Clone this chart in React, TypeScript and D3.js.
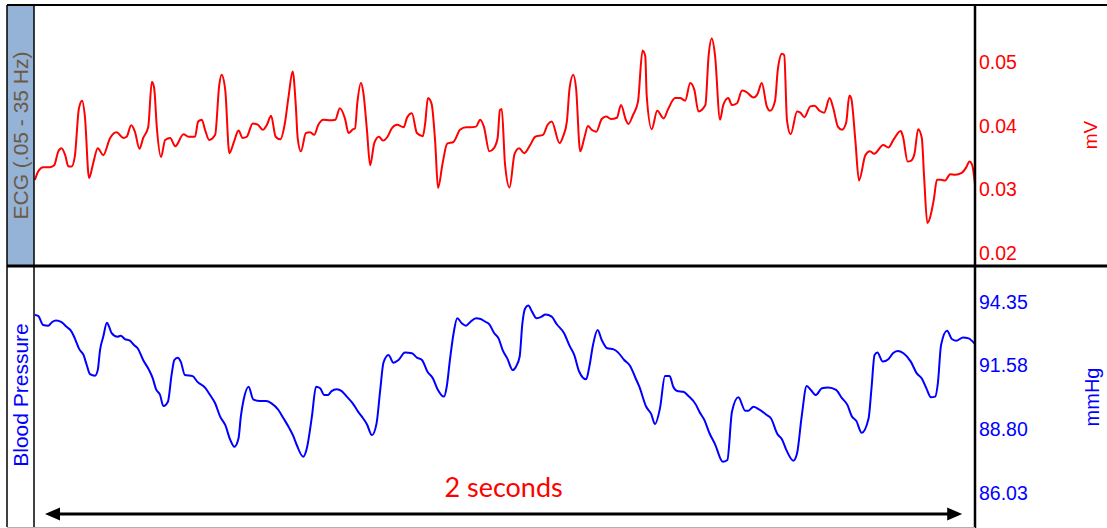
import React from "react";
import * as d3 from "d3";

// ECG trace: [time (s), amplitude (mV)]
const ecgSamples: [number, number][] = [
  [0.002, 0.0315], [0.009, 0.0328], [0.020, 0.0335], [0.035, 0.0335], [0.044, 0.0338],
  [0.053, 0.0360], [0.060, 0.0365], [0.068, 0.0354], [0.075, 0.0336], [0.082, 0.0336],
  [0.089, 0.0352], [0.098, 0.0428], [0.105, 0.0440], [0.111, 0.0415], [0.120, 0.0318],
  [0.129, 0.0341], [0.139, 0.0365], [0.151, 0.0354], [0.166, 0.0381], [0.180, 0.0390],
  [0.195, 0.0381], [0.202, 0.0383], [0.212, 0.0401], [0.220, 0.0391], [0.230, 0.0364],
  [0.238, 0.0381], [0.249, 0.0398], [0.257, 0.0470], [0.262, 0.0460], [0.268, 0.0396],
  [0.277, 0.0351], [0.286, 0.0378], [0.297, 0.0381], [0.308, 0.0368], [0.326, 0.0387],
  [0.337, 0.0383], [0.351, 0.0383], [0.358, 0.0407], [0.366, 0.0410], [0.373, 0.0394],
  [0.382, 0.0378], [0.395, 0.0386], [0.404, 0.0465], [0.409, 0.0481], [0.417, 0.0457],
  [0.426, 0.0357], [0.436, 0.0375], [0.446, 0.0393], [0.455, 0.0381], [0.464, 0.0383],
  [0.477, 0.0404], [0.488, 0.0402], [0.499, 0.0394], [0.508, 0.0402], [0.517, 0.0416],
  [0.527, 0.0383], [0.537, 0.0379], [0.547, 0.0404], [0.555, 0.0446], [0.564, 0.0486],
  [0.571, 0.0431], [0.575, 0.0381], [0.582, 0.0360], [0.593, 0.0389], [0.602, 0.0390],
  [0.611, 0.0386], [0.620, 0.0402], [0.631, 0.0410], [0.646, 0.0409], [0.657, 0.0410],
  [0.667, 0.0428], [0.678, 0.0412], [0.686, 0.0389], [0.696, 0.0395], [0.700, 0.0396],
  [0.705, 0.0436], [0.713, 0.0468], [0.718, 0.0454], [0.726, 0.0394], [0.733, 0.0338],
  [0.742, 0.0373], [0.752, 0.0383], [0.761, 0.0377], [0.771, 0.0383], [0.780, 0.0396],
  [0.792, 0.0402], [0.806, 0.0398], [0.814, 0.0414], [0.824, 0.0420], [0.835, 0.0389],
  [0.848, 0.0384], [0.853, 0.0404], [0.859, 0.0444], [0.867, 0.0435], [0.875, 0.0373],
  [0.881, 0.0302], [0.891, 0.0341], [0.901, 0.0372], [0.915, 0.0375], [0.929, 0.0394],
  [0.942, 0.0398], [0.952, 0.0398], [0.964, 0.0399], [0.973, 0.0410], [0.981, 0.0399],
  [0.993, 0.0360], [1.003, 0.0365], [1.011, 0.0381], [1.016, 0.0425], [1.020, 0.0427],
  [1.027, 0.0341], [1.037, 0.0303], [1.048, 0.0356], [1.058, 0.0365], [1.069, 0.0357],
  [1.082, 0.0370], [1.093, 0.0383], [1.110, 0.0386], [1.120, 0.0402], [1.129, 0.0407],
  [1.146, 0.0373], [1.154, 0.0384], [1.162, 0.0407], [1.168, 0.0460], [1.176, 0.0481],
  [1.182, 0.0460], [1.191, 0.0360], [1.200, 0.0381], [1.208, 0.0400], [1.216, 0.0394],
  [1.226, 0.0391], [1.238, 0.0411], [1.248, 0.0415], [1.258, 0.0411], [1.271, 0.0413],
  [1.280, 0.0433], [1.291, 0.0409], [1.296, 0.0403], [1.306, 0.0417], [1.317, 0.0438],
  [1.327, 0.0519], [1.333, 0.0510], [1.336, 0.0449], [1.347, 0.0395], [1.359, 0.0424],
  [1.373, 0.0412], [1.383, 0.0427], [1.398, 0.0444], [1.409, 0.0444], [1.420, 0.0440],
  [1.431, 0.0468], [1.440, 0.0457], [1.449, 0.0423], [1.464, 0.0433], [1.471, 0.0510],
  [1.478, 0.0538], [1.485, 0.0512], [1.496, 0.0410], [1.503, 0.0433], [1.514, 0.0444],
  [1.522, 0.0433], [1.533, 0.0436], [1.544, 0.0456], [1.553, 0.0454], [1.569, 0.0445],
  [1.578, 0.0451], [1.587, 0.0468], [1.598, 0.0431], [1.605, 0.0424], [1.616, 0.0440],
  [1.622, 0.0489], [1.631, 0.0514], [1.636, 0.0512], [1.642, 0.0409], [1.650, 0.0387],
  [1.664, 0.0423], [1.671, 0.0421], [1.680, 0.0414], [1.693, 0.0431], [1.702, 0.0432],
  [1.713, 0.0424], [1.723, 0.0421], [1.735, 0.0444], [1.743, 0.0428], [1.753, 0.0399],
  [1.762, 0.0394], [1.771, 0.0405], [1.778, 0.0448], [1.782, 0.0444], [1.791, 0.0378],
  [1.799, 0.0314], [1.813, 0.0354], [1.823, 0.0360], [1.832, 0.0356], [1.852, 0.0370],
  [1.863, 0.0366], [1.874, 0.0378], [1.890, 0.0392], [1.895, 0.0383], [1.905, 0.0344],
  [1.912, 0.0345], [1.920, 0.0356], [1.928, 0.0395], [1.936, 0.0381], [1.941, 0.0320],
  [1.948, 0.0247], [1.962, 0.0283], [1.969, 0.0315], [1.978, 0.0315], [1.987, 0.0314],
  [1.998, 0.0324], [2.009, 0.0323], [2.023, 0.0326], [2.033, 0.0335], [2.040, 0.0344],
  [2.046, 0.0338], [2.052, 0.0308],
];

// Blood pressure trace: [time (s), pressure (mmHg)]
const bpSamples: [number, number][] = [
  [0.002, 93.77], [0.009, 93.73], [0.020, 93.34], [0.031, 93.31], [0.039, 93.46],
  [0.048, 93.53], [0.060, 93.46], [0.071, 93.26], [0.082, 93.05], [0.089, 92.76],
  [0.099, 92.28], [0.108, 92.04], [0.115, 91.60], [0.122, 91.21], [0.133, 91.14],
  [0.139, 91.38], [0.144, 92.25], [0.151, 92.83], [0.159, 93.44], [0.164, 93.26],
  [0.169, 93.00], [0.182, 92.83], [0.189, 92.87], [0.198, 92.73], [0.209, 92.66],
  [0.218, 92.47], [0.226, 92.33], [0.238, 91.82], [0.251, 91.38], [0.259, 91.02],
  [0.266, 90.56], [0.275, 90.30], [0.282, 89.82], [0.292, 90.01], [0.300, 91.17],
  [0.306, 91.82], [0.313, 91.92], [0.320, 91.75], [0.329, 91.17], [0.346, 91.12],
  [0.356, 90.88], [0.373, 90.62], [0.384, 90.30], [0.395, 89.94], [0.406, 89.36],
  [0.417, 89.00], [0.428, 88.35], [0.437, 88.05], [0.446, 88.42], [0.451, 89.36],
  [0.457, 90.08], [0.468, 90.66], [0.478, 90.11], [0.493, 90.04], [0.506, 90.04],
  [0.518, 89.94], [0.533, 89.65], [0.544, 89.29], [0.557, 88.85], [0.566, 88.49],
  [0.573, 88.13], [0.587, 87.62], [0.595, 87.99], [0.606, 89.36], [0.615, 90.66],
  [0.624, 90.59], [0.633, 90.30], [0.641, 90.30], [0.649, 90.47], [0.660, 90.55],
  [0.671, 90.47], [0.682, 90.23], [0.695, 89.94], [0.707, 89.57], [0.715, 89.36],
  [0.726, 89.03], [0.737, 88.56], [0.747, 89.07], [0.755, 90.52], [0.762, 91.70],
  [0.773, 92.04], [0.784, 91.70], [0.795, 91.82], [0.809, 92.14], [0.824, 92.11],
  [0.835, 91.92], [0.846, 91.82], [0.858, 91.31], [0.870, 91.02], [0.880, 90.55],
  [0.894, 90.23], [0.900, 90.66], [0.907, 91.82], [0.915, 92.98], [0.923, 93.63],
  [0.933, 93.41], [0.942, 93.31], [0.951, 93.46], [0.964, 93.63], [0.974, 93.60],
  [0.984, 93.48], [0.993, 93.37], [1.003, 93.00], [1.013, 92.76], [1.022, 92.25],
  [1.032, 91.89], [1.044, 91.38], [1.051, 91.53], [1.059, 91.96], [1.065, 93.41],
  [1.071, 94.06], [1.078, 94.18], [1.086, 93.92], [1.096, 93.63], [1.107, 93.70],
  [1.115, 93.80], [1.129, 93.70], [1.140, 93.37], [1.156, 92.98], [1.168, 92.43],
  [1.178, 92.04], [1.189, 91.31], [1.204, 90.98], [1.211, 91.53], [1.219, 92.47],
  [1.229, 93.12], [1.238, 92.69], [1.250, 92.33], [1.264, 92.28], [1.274, 92.14],
  [1.287, 91.82], [1.300, 91.56], [1.311, 91.07], [1.320, 90.66], [1.335, 89.79],
  [1.346, 89.47], [1.354, 89.04], [1.365, 89.72], [1.376, 91.12], [1.386, 91.12],
  [1.394, 90.66], [1.403, 90.47], [1.416, 90.44], [1.427, 90.26], [1.444, 89.86],
  [1.451, 89.57], [1.462, 89.21], [1.473, 88.64], [1.485, 88.17], [1.502, 87.40],
  [1.512, 87.48], [1.522, 89.57], [1.536, 90.20], [1.551, 89.62], [1.558, 89.62],
  [1.569, 89.79], [1.580, 89.69], [1.598, 89.43], [1.607, 89.29], [1.621, 88.61],
  [1.631, 88.38], [1.640, 87.94], [1.656, 87.45], [1.664, 87.77], [1.674, 89.36],
  [1.685, 90.69], [1.694, 90.52], [1.705, 90.30], [1.718, 90.59], [1.732, 90.63],
  [1.749, 90.52], [1.762, 90.16], [1.774, 89.86], [1.783, 89.39], [1.793, 89.18],
  [1.805, 88.66], [1.820, 89.29], [1.826, 90.52], [1.833, 92.04], [1.839, 92.14],
  [1.851, 91.75], [1.863, 91.85], [1.873, 92.11], [1.883, 92.21], [1.896, 92.11],
  [1.912, 91.75], [1.925, 91.24], [1.936, 91.02], [1.946, 90.59], [1.956, 90.20],
  [1.965, 90.23], [1.971, 90.81], [1.978, 92.47], [1.991, 93.09], [2.002, 92.72],
  [2.012, 92.66], [2.026, 92.80], [2.038, 92.76], [2.052, 92.51],
];

const ecgTicks = [0.02, 0.03, 0.04, 0.05];
const bpTicks = [86.03, 88.8, 91.58, 94.35];

const timeDomain: [number, number] = [0, 2.052];
const ecgDomain: [number, number] = [0.0179, 0.0591];
const bpDomain: [number, number] = [84.57, 95.9];

// Time-scale bar
const scaleBarStart = 0.024;
const scaleBarSeconds = 2;

const W = 1107;
const H = 528;
const frameLeft = 7;
const plotLeft = 34;
const plotRight = 975;
const top = 5;
const mid = 266;
const bottom = 527;

const SANS = "'Liberation Sans', Arial, sans-serif";

export default function App() {
  const x = d3.scaleLinear().domain(timeDomain).range([plotLeft, plotRight]);
  const yEcg = d3.scaleLinear().domain(ecgDomain).range([mid, top]);
  const yBp = d3.scaleLinear().domain(bpDomain).range([bottom, mid]);

  const ecgLine = d3
    .line<[number, number]>()
    .x((d) => x(d[0]))
    .y((d) => yEcg(d[1]))
    .curve(d3.curveMonotoneX);
  const bpLine = d3
    .line<[number, number]>()
    .x((d) => x(d[0]))
    .y((d) => yBp(d[1]))
    .curve(d3.curveMonotoneX);

  const barX0 = x(scaleBarStart);
  const barX1 = x(scaleBarStart + scaleBarSeconds);
  const barY = 514;
  const head = 15;
  const headHalf = 6.5;

  return (
    <svg
      width={W}
      height={H}
      style={{ position: "absolute", left: 0, top: 0, background: "#fff" }}
    >
      <defs>
        <clipPath id="ecg-clip">
          <rect x={plotLeft} y={top} width={plotRight - plotLeft} height={mid - top} />
        </clipPath>
        <clipPath id="bp-clip">
          <rect x={plotLeft} y={mid} width={plotRight - plotLeft} height={bottom - mid} />
        </clipPath>
      </defs>

      {/* ECG label band */}
      <rect x={frameLeft} y={top} width={plotLeft - frameLeft} height={mid - top} fill="#95b3d7" />

      {/* traces */}
      <path
        d={ecgLine(ecgSamples) ?? ""}
        fill="none"
        stroke="#ff0000"
        strokeWidth={2}
        strokeLinejoin="round"
        clipPath="url(#ecg-clip)"
      />
      <path
        d={bpLine(bpSamples) ?? ""}
        fill="none"
        stroke="#0000ff"
        strokeWidth={2}
        strokeLinejoin="round"
        clipPath="url(#bp-clip)"
      />

      {/* frame */}
      <line x1={frameLeft} x2={W} y1={top} y2={top} stroke="#000" strokeWidth={2} />
      <line x1={frameLeft} x2={frameLeft} y1={top} y2={bottom} stroke="#000" strokeWidth={1.5} />
      <line x1={plotLeft} x2={plotLeft} y1={top} y2={bottom} stroke="#000" strokeWidth={1.5} />
      <line x1={plotRight} x2={plotRight} y1={top} y2={H} stroke="#000" strokeWidth={2.5} />
      <line x1={frameLeft} x2={W} y1={mid} y2={mid} stroke="#000" strokeWidth={3} />
      <line x1={frameLeft} x2={plotRight} y1={bottom + 0.5} y2={bottom + 0.5} stroke="#b0b0b0" strokeWidth={1} />

      {/* panel titles */}
      <text
        transform={`translate(28,${(top + mid) / 2}) rotate(-90)`}
        textAnchor="middle"
        fontFamily={SANS}
        fontSize={21}
        fill="#6b5a44"
      >
        ECG (.05 - 35 Hz)
      </text>
      <text
        transform={`translate(28,395) rotate(-90)`}
        textAnchor="middle"
        fontFamily={SANS}
        fontSize={21}
        fill="#0000ff"
      >
        Blood Pressure
      </text>

      {/* right axes */}
      {ecgTicks.map((t) => (
        <text
          key={`e${t}`}
          x={979}
          y={yEcg(t)}
          dy="0.35em"
          fontFamily={SANS}
          fontSize={19.5}
          fill="#ff0000"
        >
          {d3.format(".2f")(t)}
        </text>
      ))}
      {bpTicks.map((t) => (
        <text
          key={`b${t}`}
          x={979}
          y={yBp(t)}
          dy="0.35em"
          fontFamily={SANS}
          fontSize={19.5}
          fill="#0000ff"
        >
          {d3.format(".2f")(t)}
        </text>
      ))}
      <text
        transform={`translate(1097,135) rotate(-90)`}
        textAnchor="middle"
        fontFamily={SANS}
        fontSize={19}
        fill="#ff0000"
      >
        mV
      </text>
      <text
        transform={`translate(1099,397) rotate(-90)`}
        textAnchor="middle"
        fontFamily={SANS}
        fontSize={20}
        fill="#0000ff"
      >
        mmHg
      </text>

      {/* 2-second scale bar */}
      <line
        x1={barX0 + head - 2}
        x2={barX1 - head + 2}
        y1={barY}
        y2={barY}
        stroke="#000"
        strokeWidth={3}
      />
      <path
        d={`M${barX0},${barY} L${barX0 + head},${barY - headHalf} L${barX0 + head},${barY + headHalf} Z`}
        fill="#000"
      />
      <path
        d={`M${barX1},${barY} L${barX1 - head},${barY - headHalf} L${barX1 - head},${barY + headHalf} Z`}
        fill="#000"
      />
      <text
        x={(barX0 + barX1) / 2}
        y={497}
        textAnchor="middle"
        fontFamily="Lato, 'Open Sans', sans-serif"
        fontSize={27}
        fill="#ff0000"
      >
        {`${scaleBarSeconds} seconds`}
      </text>
    </svg>
  );
}
